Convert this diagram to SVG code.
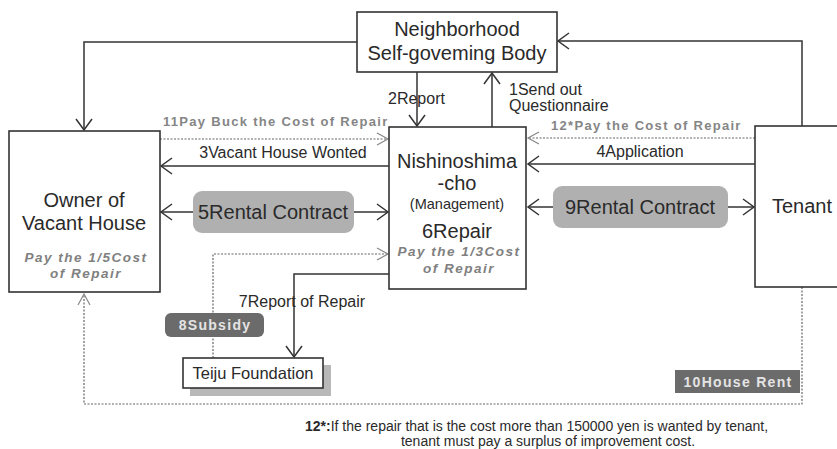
<svg xmlns="http://www.w3.org/2000/svg" width="837" height="449" viewBox="0 0 837 449">
<defs>
<marker id="arr" markerUnits="userSpaceOnUse" markerWidth="24" markerHeight="24" viewBox="-12 -12 24 24" refX="0" refY="0" orient="auto-start-reverse">
<path d="M-11,-8 L0,0 L-11,8" fill="none" stroke="#333" stroke-width="1.5"/>
</marker>
<marker id="arrg" markerUnits="userSpaceOnUse" markerWidth="24" markerHeight="24" viewBox="-12 -12 24 24" refX="0" refY="0" orient="auto-start-reverse">
<path d="M-11,-6 L0,0 L-11,6" fill="none" stroke="#888" stroke-width="1.2"/>
</marker>
</defs>
<style>
.box{fill:#fff;stroke:#333;stroke-width:1.6}
.t{font-family:"Liberation Sans",Arial,sans-serif;fill:#2a2a2a}
.big{font-size:20px}
.lab{font-size:16px}
.it{font-size:13.5px;font-weight:bold;font-style:italic;fill:#808080;letter-spacing:1.5px}
.gl{font-size:13px;font-weight:bold;fill:#858585;letter-spacing:1.3px}
.ln{fill:none;stroke:#333;stroke-width:1.5}
.dl{fill:none;stroke:#666;stroke-width:1.2;stroke-dasharray:2,1.5}
.pill{fill:#b0b0b0}
.dark{fill:#6b6b6b}
.wt{font-family:"Liberation Sans",Arial,sans-serif;font-size:14px;font-weight:bold;fill:#e4e4e4;letter-spacing:1.3px}
</style>
<rect width="837" height="449" fill="#fff"/>
<g id="connectors">
<path class="ln" d="M357,42 H84 V130" marker-end="url(#arr)"/>
<path class="ln" d="M802,126 V41 H558" marker-end="url(#arr)"/>
<path class="ln" d="M417,72 V126" marker-end="url(#arr)"/>
<path class="ln" d="M492,127 V73" marker-end="url(#arr)"/>
<path class="dl" d="M160,139 H388" marker-end="url(#arrg)"/>
<path class="ln" d="M389,166 H161" marker-end="url(#arr)"/>
<path class="ln" d="M161,212 H388" marker-start="url(#arr)" marker-end="url(#arr)"/>
<path class="ln" d="M755,164 H528" marker-end="url(#arr)"/>
<path class="dl" d="M755,138 H528" marker-end="url(#arrg)"/>
<path class="ln" d="M528,207 H754" marker-start="url(#arr)" marker-end="url(#arr)"/>
<path class="dl" d="M213,358 V254 H388" marker-end="url(#arrg)"/>
<path class="ln" d="M389,274 H294 V357" marker-end="url(#arr)"/>
<path class="dl" d="M802,287 V404 H84 V294" marker-end="url(#arrg)"/>
<text class="t lab" x="388" y="104">2Report</text>
<text class="t lab" x="509" y="95">1Send out</text>
<text class="t lab" x="509" y="111">Questionnaire</text>
<text class="t gl" x="163" y="126">11Pay Buck the Cost of Repair</text>
<text class="t gl" x="551" y="130">12*Pay the Cost of Repair</text>
<text class="t lab" x="283" y="158" text-anchor="middle">3Vacant House Wonted</text>
<text class="t lab" x="640" y="157" text-anchor="middle">4Application</text>
<rect class="pill" x="193" y="191" width="161" height="42" rx="9"/>
<text class="t big" x="273" y="219" text-anchor="middle">5Rental Contract</text>
<rect class="pill" x="553" y="186" width="175" height="42" rx="9"/>
<text class="t big" x="640" y="214" text-anchor="middle">9Rental Contract</text>
<text class="t lab" x="302" y="307" text-anchor="middle">7Report of Repair</text>
<rect class="dark" x="165" y="313" width="99" height="24" rx="6"/>
<text class="wt" x="215" y="330" text-anchor="middle">8Subsidy</text>
<rect class="dark" x="675" y="370" width="125" height="23"/>
<text class="wt" x="738" y="387" text-anchor="middle">10House Rent</text>
</g>
<g id="neighborhood">
<rect class="box" x="357" y="12" width="200" height="60"/>
<text class="t big" x="457" y="36" text-anchor="middle">Neighborhood</text>
<text class="t big" x="457" y="60" text-anchor="middle">Self-goveming Body</text>
</g>
<g id="owner">
<rect class="box" x="9" y="131" width="151" height="161"/>
<text class="t big" x="84" y="207" text-anchor="middle">Owner of</text>
<text class="t big" x="84" y="230" text-anchor="middle">Vacant House</text>
<text class="t it" x="86" y="262" text-anchor="middle">Pay the 1/5Cost</text>
<text class="t it" x="86" y="278" text-anchor="middle">of Repair</text>
</g>
<g id="nishinoshima">
<rect class="box" x="389" y="127" width="137" height="162"/>
<text class="t big" x="457" y="168" text-anchor="middle">Nishinoshima</text>
<text class="t big" x="457" y="190" text-anchor="middle">-cho</text>
<text class="t" font-size="14.5" x="457" y="209" text-anchor="middle">(Management)</text>
<text class="t big" x="457" y="238" text-anchor="middle">6Repair</text>
<text class="t it" x="459" y="256" text-anchor="middle">Pay the 1/3Cost</text>
<text class="t it" x="459" y="273" text-anchor="middle">of Repair</text>
</g>
<g id="tenant">
<rect class="box" x="755" y="126" width="90" height="161"/>
<text class="t big" x="772" y="213">Tenant</text>
</g>
<g id="teiju">
<rect x="190" y="365" width="141" height="31" fill="#b8b8b8"/>
<rect class="box" x="183" y="358" width="140" height="30"/>
<text class="t" font-size="16.5" x="253" y="379" text-anchor="middle">Teiju Foundation</text>
</g>
<g id="footnote">
<text class="t" font-size="14" x="305" y="431"><tspan font-weight="bold">12*:</tspan>If the repair that is the cost more than 150000 yen is wanted by tenant,</text>
<text class="t" font-size="14" x="548" y="446" text-anchor="middle">tenant must pay a surplus of improvement cost.</text>
</g>
</svg>
